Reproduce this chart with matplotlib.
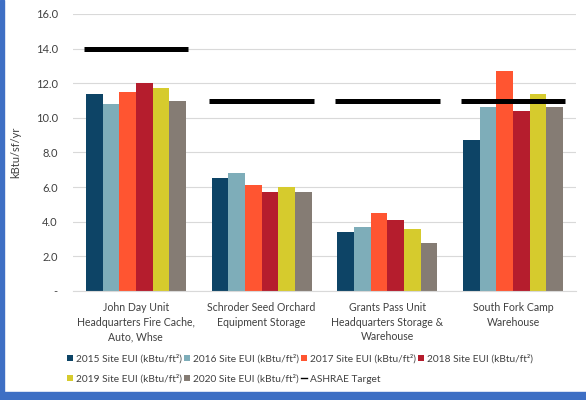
import numpy as np
import matplotlib
matplotlib.use("Agg")
import matplotlib.pyplot as plt
from matplotlib.patches import Rectangle
from matplotlib.lines import Line2D

plt.rcParams['font.family'] = ['Lato', 'DejaVu Sans']

# data
sites = ["John Day Unit\nHeadquarters Fire Cache,\nAuto, Whse",
         "Schroder Seed Orchard\nEquipment Storage",
         "Grants Pass Unit\nHeadquarters Storage &\nWarehouse",
         "South Fork Camp\nWarehouse"]
years = ["2015", "2016", "2017", "2018", "2019", "2020"]
eui_2015 = [11.4, 6.5, 3.4, 8.7]
eui_2016 = [10.8, 6.8, 3.7, 10.6]
eui_2017 = [11.5, 6.1, 4.5, 12.7]
eui_2018 = [12.0, 5.7, 4.1, 10.4]
eui_2019 = [11.7, 6.0, 3.6, 11.4]
eui_2020 = [11.0, 5.7, 2.8, 10.6]
ashrae_target = [14.0, 11.0, 11.0, 11.0]

series = [eui_2015, eui_2016, eui_2017, eui_2018, eui_2019, eui_2020]
colors = ["#0D4466", "#7EADB9", "#FF5531", "#B51D2D", "#D6CB2D", "#857C74"]

fig = plt.figure(figsize=(5.86, 4.0), dpi=100)
ax = fig.add_axes([73/586, 109/400, 503/586, 277/400])

x = np.arange(len(sites))
w = 0.1325
handles = []
for i, (vals, c) in enumerate(zip(series, colors)):
    b = ax.bar(x + (i - 2.5) * w, vals, width=w, color=c, zorder=2,
               label=years[i] + " Site EUI (kBtu/ft²)")
    handles.append(b)

ax.hlines(ashrae_target, x - 0.415, x + 0.415, color="black", lw=3.6, zorder=3)
target_handle = Line2D([], [], color="black", lw=1.0, label="ASHRAE Target")

ax.set_xlim(-0.5, 3.5)
ax.set_ylim(0, 16)
ax.set_yticks(np.arange(0, 17, 2))
ax.set_yticklabels(["-"] + ["%.1f" % v for v in np.arange(2, 17, 2)])
ax.set_xticks(x)
ax.set_xticklabels(sites, fontsize=7.6, color="#404040", linespacing=1.4)
ax.tick_params(axis="y", labelsize=8, labelcolor="#404040", length=0, pad=11)
ax.tick_params(axis="x", length=0, pad=8)
ax.grid(axis="y", color="#D9D9D9", lw=0.8, zorder=0)
for s in ["top", "right", "left"]:
    ax.spines[s].set_visible(False)
ax.spines["bottom"].set_color("#D9D9D9")
ax.set_ylabel("kBtu/sf/yr", fontsize=8, color="#404040", labelpad=10)

h = handles + [target_handle]
order = [0, 4, 1, 5, 2, 6, 3]
fig.legend([h[k] for k in order], [h[k].get_label() for k in order],
           loc="center", bbox_to_anchor=(300/586, (400-369)/400), ncol=4,
           frameon=False, fontsize=7.3, handlelength=0.55, handleheight=0.55,
           handletextpad=0.3, columnspacing=0.25, labelspacing=1.1,
           labelcolor="#404040")

# blue frame on left and bottom
fig.patches.append(Rectangle((0, 0), 4/586, 1, transform=fig.transFigure,
                             color="#3E6FC4", zorder=5))
fig.patches.append(Rectangle((0, 0), 1, 8/400, transform=fig.transFigure,
                             color="#3E6FC4", zorder=5))

fig.savefig("out.png", dpi=100)
